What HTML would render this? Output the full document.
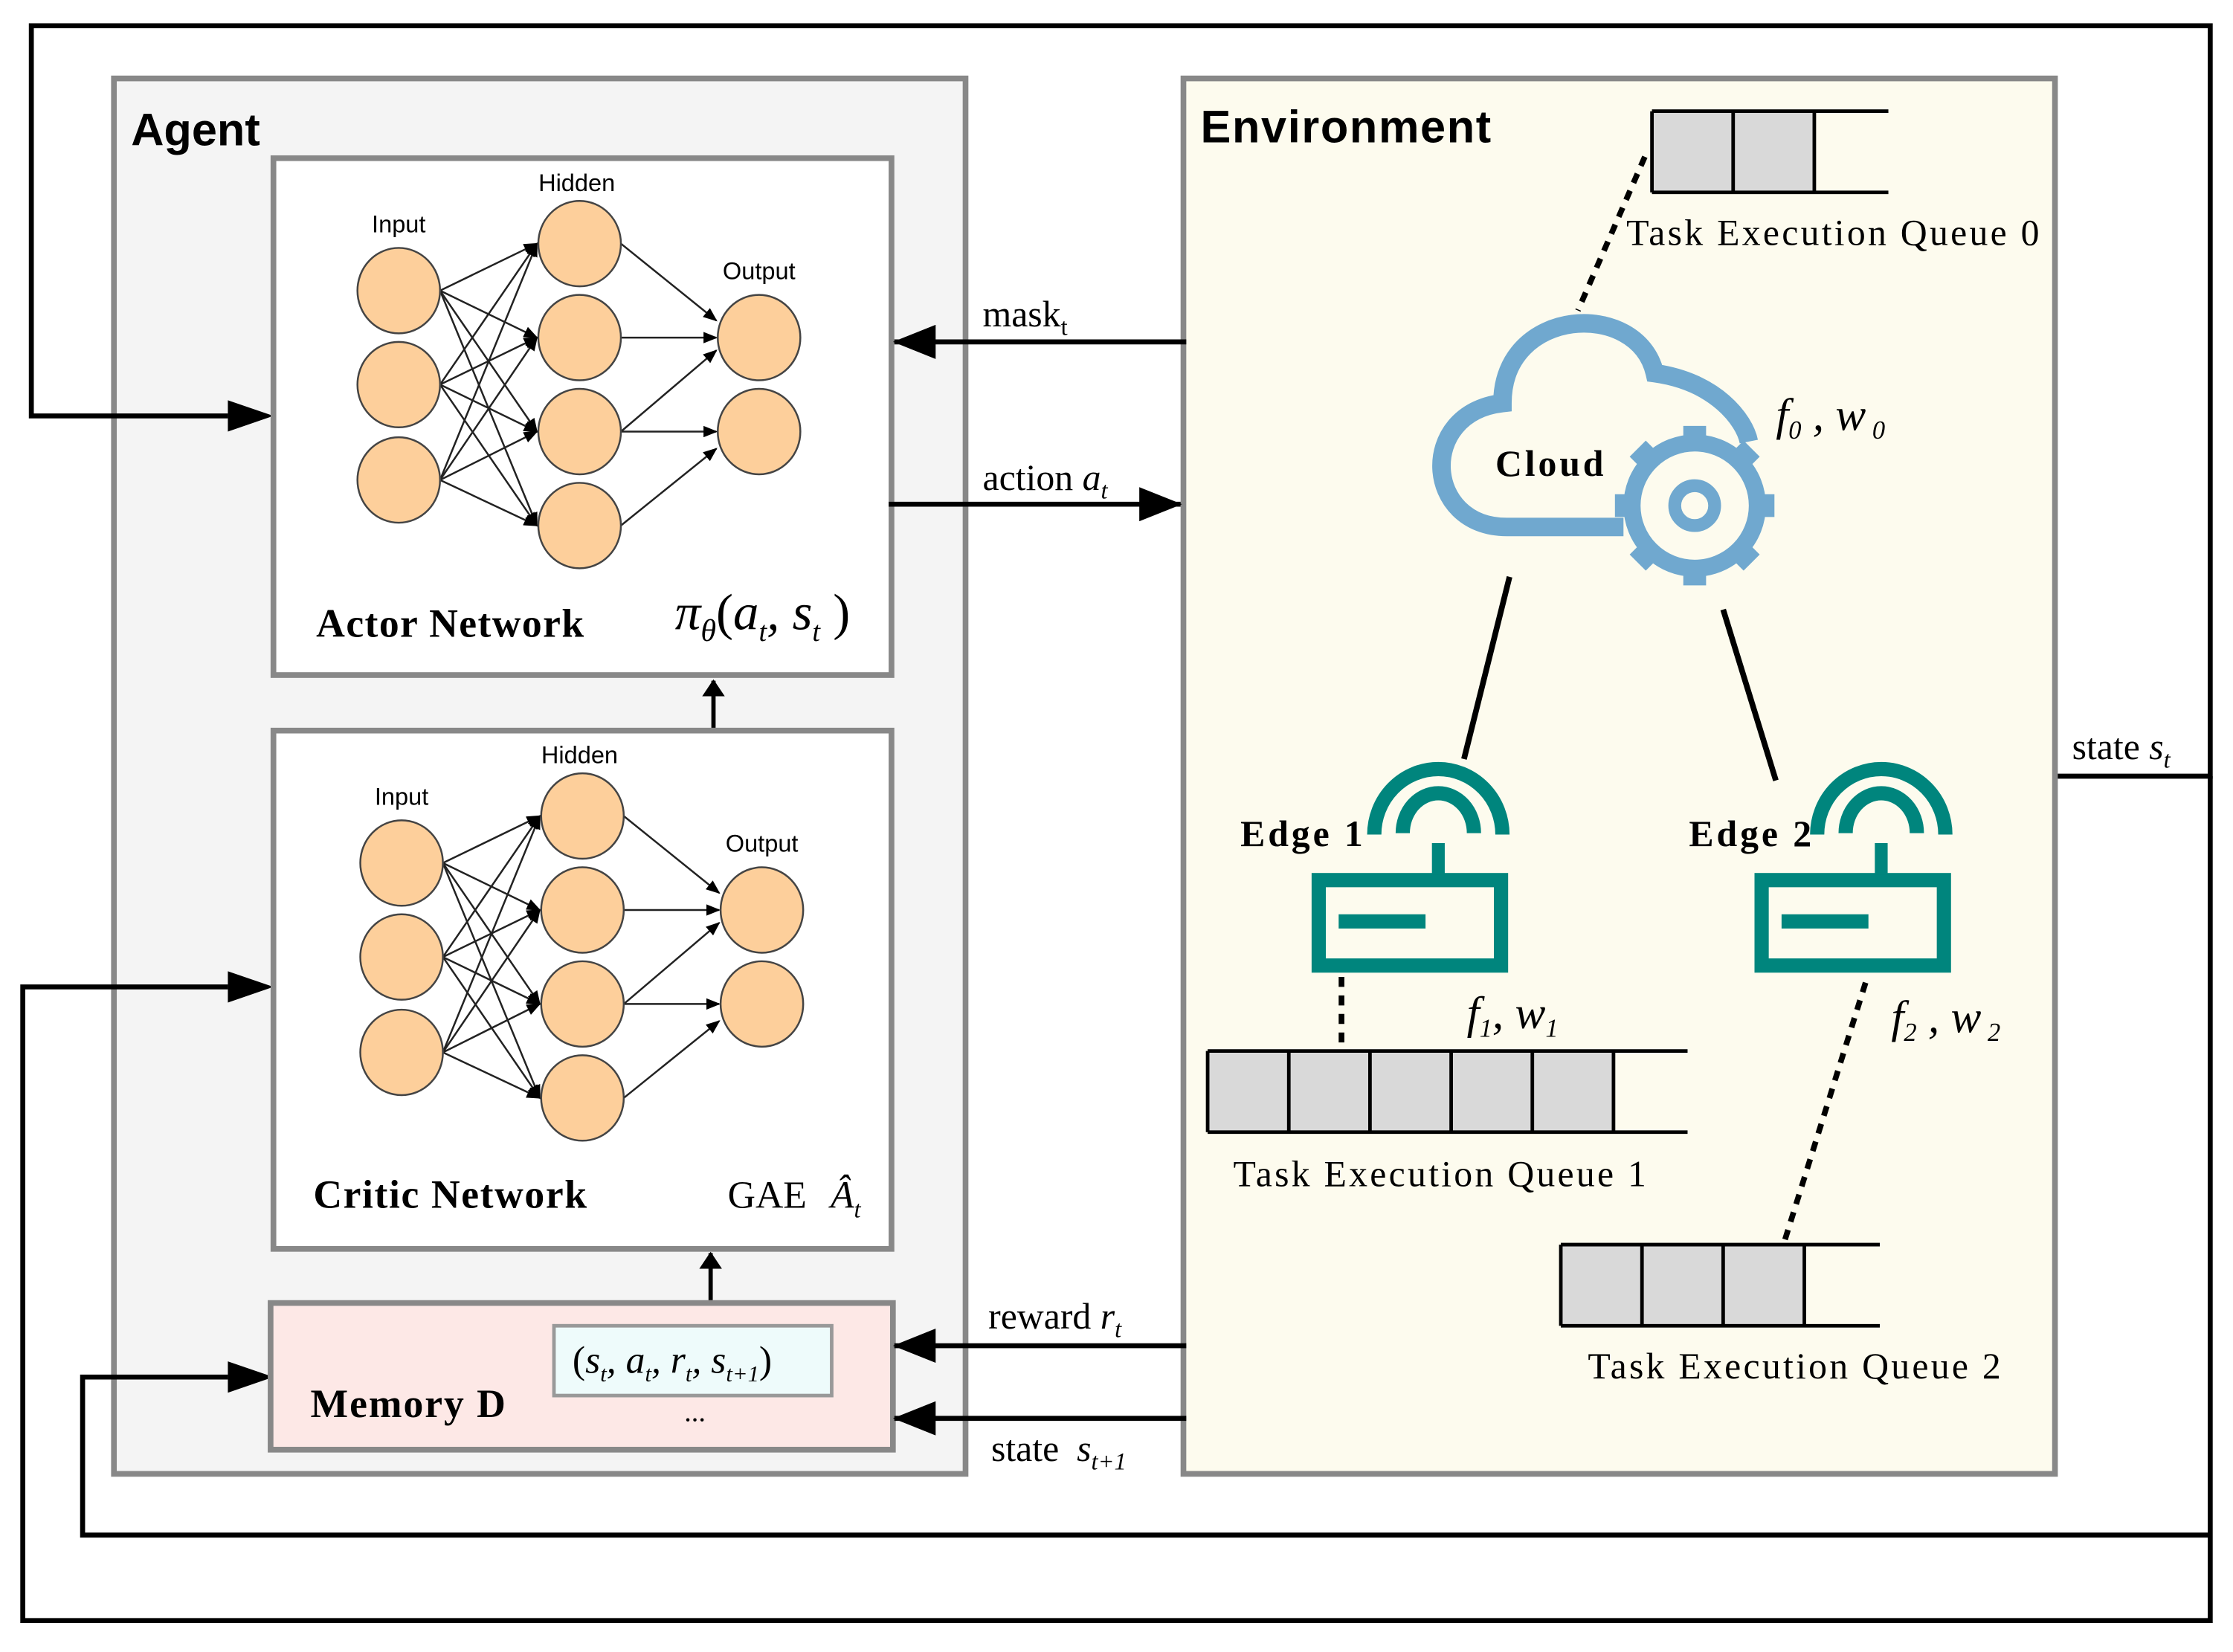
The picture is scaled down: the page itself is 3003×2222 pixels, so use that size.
<!DOCTYPE html>
<html><head><meta charset="utf-8"><style>html,body{margin:0;padding:0;background:#fff}svg{display:block}</style></head>
<body>
<svg width="3003" height="2222" viewBox="0 0 1568 1160" xmlns="http://www.w3.org/2000/svg" font-family="Liberation Serif, serif">
<defs>
<marker id="ab" markerWidth="10" markerHeight="8" refX="9" refY="4" orient="auto" markerUnits="userSpaceOnUse" viewBox="0 0 10 8"><path d="M0,0 L10,4 L0,8 z" fill="#000"/></marker>
<marker id="big" viewBox="0 0 30 24" refX="29" refY="12" markerWidth="30" markerHeight="24" orient="auto" markerUnits="userSpaceOnUse"><path d="M0,0 L30,12 L0,24 z" fill="#000"/></marker>
<marker id="sm" viewBox="0 0 12 16" refX="11" refY="8" markerWidth="12" markerHeight="16" orient="auto" markerUnits="userSpaceOnUse"><path d="M0,0 L12,8 L0,16 z" fill="#000"/></marker>
</defs>
<rect width="1568" height="1160" fill="#fff"/>
<!-- Agent -->
<rect x="80" y="55" width="598" height="980" fill="#f4f4f4" stroke="#888" stroke-width="4"/>
<!-- outer loops -->
<g fill="none" stroke="#000" stroke-width="3.5">
<polyline points="1443,545 1552,545 1552,18 22,18 22,292 160,292"/>
<polyline points="1552,545 1552,1138 16,1138 16,693 160,693"/>
<polyline points="1552,1078 58,1078 58,967 160,967"/>
</g>
<path d="M160,281 L192,292 L160,303 z"/><path d="M160,682 L192,693 L160,704 z"/><path d="M160,956 L192,967 L160,978 z"/>
<text x="92" y="102" font-family="Liberation Sans, sans-serif" font-weight="bold" font-size="32">Agent</text>
<rect x="192" y="111" width="434" height="363" fill="#fff" stroke="#888" stroke-width="4"/>
<rect x="192" y="513" width="434" height="364" fill="#fff" stroke="#888" stroke-width="4"/>
<rect x="190" y="915" width="437" height="103" fill="#fde8e6" stroke="#888" stroke-width="4"/>
<rect x="389" y="931" width="195" height="49" fill="#eefbfb" stroke="#999" stroke-width="2.5"/>
<line x1="501" y1="511" x2="501" y2="478" stroke="#000" stroke-width="3" marker-end="url(#sm)"/>
<line x1="499" y1="913" x2="499" y2="880" stroke="#000" stroke-width="3" marker-end="url(#sm)"/>
<!-- NN actor -->
<g id="nn">
<g stroke="#222" stroke-width="1.3" marker-end="url(#ab)" fill="none">
<line x1="309" y1="204" x2="377" y2="171"/><line x1="309" y1="204" x2="377" y2="237"/><line x1="309" y1="204" x2="377" y2="303"/><line x1="309" y1="204" x2="377" y2="369"/>
<line x1="309" y1="270" x2="377" y2="171"/><line x1="309" y1="270" x2="377" y2="237"/><line x1="309" y1="270" x2="377" y2="303"/><line x1="309" y1="270" x2="377" y2="369"/>
<line x1="309" y1="337" x2="377" y2="171"/><line x1="309" y1="337" x2="377" y2="237"/><line x1="309" y1="337" x2="377" y2="303"/><line x1="309" y1="337" x2="377" y2="369"/>
<line x1="436" y1="171" x2="503" y2="225"/><line x1="436" y1="237" x2="503" y2="237"/><line x1="436" y1="303" x2="503" y2="246"/>
<line x1="436" y1="303" x2="503" y2="303"/><line x1="436" y1="369" x2="503" y2="315"/>
</g>
<g fill="#fdcf9b" stroke="#444" stroke-width="1.3">
<ellipse cx="280" cy="204" rx="29" ry="30"/><ellipse cx="280" cy="270" rx="29" ry="30"/><ellipse cx="280" cy="337" rx="29" ry="30"/>
<ellipse cx="407" cy="171" rx="29" ry="30"/><ellipse cx="407" cy="237" rx="29" ry="30"/><ellipse cx="407" cy="303" rx="29" ry="30"/><ellipse cx="407" cy="369" rx="29" ry="30"/>
<ellipse cx="533" cy="237" rx="29" ry="30"/><ellipse cx="533" cy="303" rx="29" ry="30"/>
</g>
<g font-family="Liberation Sans, sans-serif" font-size="17" text-anchor="middle">
<text x="280" y="163">Input</text><text x="405" y="134">Hidden</text><text x="533" y="196">Output</text>
</g>
</g>
<use href="#nn" transform="translate(2,402)"/>
<text x="222" y="447" font-weight="bold" font-size="28" textLength="188">Actor Network</text>
<text x="474" y="442" font-size="36" font-style="italic">π<tspan font-size="22" dy="8">θ</tspan><tspan dy="-8" font-style="normal">(</tspan>a<tspan font-size="20" dy="8">t</tspan><tspan dy="-8">, s</tspan><tspan font-size="20" dy="8">t</tspan><tspan dy="-8" font-style="normal"> )</tspan></text>
<text x="220" y="848" font-weight="bold" font-size="28" textLength="192">Critic Network</text>
<text x="511" y="848" font-size="27">GAE <tspan font-style="italic" dx="10">Â</tspan><tspan font-size="17" dy="7" font-style="italic">t</tspan></text>
<text x="218" y="995" font-weight="bold" font-size="28" textLength="137">Memory D</text>
<text x="402" y="964" font-size="27" font-style="italic"><tspan font-style="normal">(</tspan>s<tspan font-size="16" dy="6">t</tspan><tspan dy="-6">, a</tspan><tspan font-size="16" dy="6">t</tspan><tspan dy="-6">, r</tspan><tspan font-size="16" dy="6">t</tspan><tspan dy="-6">, s</tspan><tspan font-size="16" dy="6">t+1</tspan><tspan dy="-6" font-style="normal">)</tspan></text>
<text x="488" y="998" font-size="20" text-anchor="middle">...</text>
<!-- Environment -->
<rect x="831" y="55" width="612" height="980" fill="#fdfbee" stroke="#888" stroke-width="4"/>
<text x="843" y="100" font-family="Liberation Sans, sans-serif" font-weight="bold" font-size="32" textLength="204">Environment</text>
<g stroke="#000" stroke-width="3.5">
<line x1="833" y1="240" x2="628" y2="240" marker-end="url(#big)"/>
<line x1="624" y1="354" x2="829" y2="354" marker-end="url(#big)"/>
<line x1="833" y1="945" x2="628" y2="945" marker-end="url(#big)"/>
<line x1="833" y1="996" x2="628" y2="996" marker-end="url(#big)"/>
</g>
<text x="690" y="229" font-size="26">mask<tspan font-size="17" dy="6">t</tspan></text>
<text x="690" y="344" font-size="26">action <tspan font-style="italic">a</tspan><tspan font-size="17" dy="6" font-style="italic">t</tspan></text>
<text x="694" y="933" font-size="26">reward <tspan font-style="italic">r</tspan><tspan font-size="17" dy="6" font-style="italic">t</tspan></text>
<text x="696" y="1026" font-size="26">state <tspan font-style="italic" dx="6">s</tspan><tspan font-size="17" dy="6" font-style="italic">t+1</tspan></text>
<text x="1455" y="533" font-size="26">state <tspan font-style="italic">s</tspan><tspan font-size="17" dy="6" font-style="italic">t</tspan></text>
<!-- queue 0 -->
<rect x="1160" y="78" width="114" height="57" fill="#d9d9d9"/>
<g stroke="#000" stroke-width="2.5" fill="none">
<line x1="1160" y1="78" x2="1326" y2="78"/><line x1="1160" y1="135" x2="1326" y2="135"/>
<line x1="1160" y1="78" x2="1160" y2="135"/><line x1="1217" y1="78" x2="1217" y2="135"/><line x1="1274" y1="78" x2="1274" y2="135"/>
</g>
<text x="1142" y="172" font-size="26" textLength="290">Task Execution Queue 0</text>
<line x1="1155" y1="110" x2="1108" y2="218" stroke="#000" stroke-width="4" stroke-dasharray="7,6"/>
<!-- cloud -->
<path d="M1140,370 L1058,370 C1000,370 995,290 1055,283 C1055,215 1150,210 1162,262 C1205,268 1225,295 1228,310" fill="none" stroke="#70a8cf" stroke-width="13"/>
<g transform="translate(1190,355)" fill="none" stroke="#70a8cf" stroke-width="12">
<circle r="14" stroke-width="9"/>
<circle r="44"/>
<g stroke-width="16">
<line x1="0" y1="-44" x2="0" y2="-56"/><line x1="0" y1="44" x2="0" y2="56"/><line x1="-44" y1="0" x2="-56" y2="0"/><line x1="44" y1="0" x2="56" y2="0"/>
<line x1="31" y1="31" x2="40" y2="40"/><line x1="-31" y1="31" x2="-40" y2="40"/><line x1="31" y1="-31" x2="40" y2="-40"/><line x1="-31" y1="-31" x2="-40" y2="-40"/>
</g>
</g>
<text x="1050" y="334" font-weight="bold" font-size="26" textLength="76">Cloud</text>
<text x="1247" y="302" font-size="32" font-style="italic">f<tspan font-size="18" dy="6">0</tspan><tspan dy="-6"> , w</tspan><tspan font-size="18" dy="6"> 0</tspan></text>
<g stroke="#000" stroke-width="4">
<line x1="1060" y1="405" x2="1028" y2="533"/><line x1="1210" y1="428" x2="1247" y2="548"/>
</g>
<!-- routers -->
<g id="rt" fill="none" stroke="#00857d">
<rect x="926" y="618" width="128" height="60" stroke-width="10"/>
<line x1="940" y1="647" x2="1001" y2="647" stroke-width="10"/>
<line x1="1010" y1="592" x2="1010" y2="614" stroke-width="9"/>
<path d="M985,585 A25,28 0 0 1 1035,585" stroke-width="10"/>
<path d="M965,586 A45,46 0 0 1 1055,586" stroke-width="10"/>
</g>
<use href="#rt" transform="translate(311,0)"/>
<text x="871" y="594" font-weight="bold" font-size="26" textLength="86">Edge 1</text>
<text x="1186" y="594" font-weight="bold" font-size="26" textLength="86">Edge 2</text>
<line x1="942" y1="686" x2="942" y2="738" stroke="#000" stroke-width="4" stroke-dasharray="7,6"/>
<text x="1030" y="722" font-size="32" font-style="italic">f<tspan font-size="18" dy="6">1</tspan><tspan dy="-6">, w</tspan><tspan font-size="18" dy="6">1</tspan></text>
<rect x="848" y="738" width="285" height="57" fill="#d9d9d9"/>
<g stroke="#000" stroke-width="2.5">
<line x1="848" y1="738" x2="1185" y2="738"/><line x1="848" y1="795" x2="1185" y2="795"/>
<line x1="848" y1="738" x2="848" y2="795"/><line x1="905" y1="738" x2="905" y2="795"/><line x1="962" y1="738" x2="962" y2="795"/><line x1="1019" y1="738" x2="1019" y2="795"/><line x1="1076" y1="738" x2="1076" y2="795"/><line x1="1133" y1="738" x2="1133" y2="795"/>
</g>
<text x="866" y="833" font-size="26" textLength="290">Task Execution Queue 1</text>
<line x1="1310" y1="690" x2="1252" y2="875" stroke="#000" stroke-width="4" stroke-dasharray="7,6"/>
<text x="1328" y="725" font-size="32" font-style="italic">f<tspan font-size="18" dy="6">2</tspan><tspan dy="-6"> , w</tspan><tspan font-size="18" dy="6"> 2</tspan></text>
<rect x="1096" y="874" width="171" height="57" fill="#d9d9d9"/>
<g stroke="#000" stroke-width="2.5">
<line x1="1096" y1="874" x2="1320" y2="874"/><line x1="1096" y1="931" x2="1320" y2="931"/>
<line x1="1096" y1="874" x2="1096" y2="931"/><line x1="1153" y1="874" x2="1153" y2="931"/><line x1="1210" y1="874" x2="1210" y2="931"/><line x1="1267" y1="874" x2="1267" y2="931"/>
</g>
<text x="1115" y="968" font-size="26" textLength="290">Task Execution Queue 2</text>
</svg>
</body></html>
